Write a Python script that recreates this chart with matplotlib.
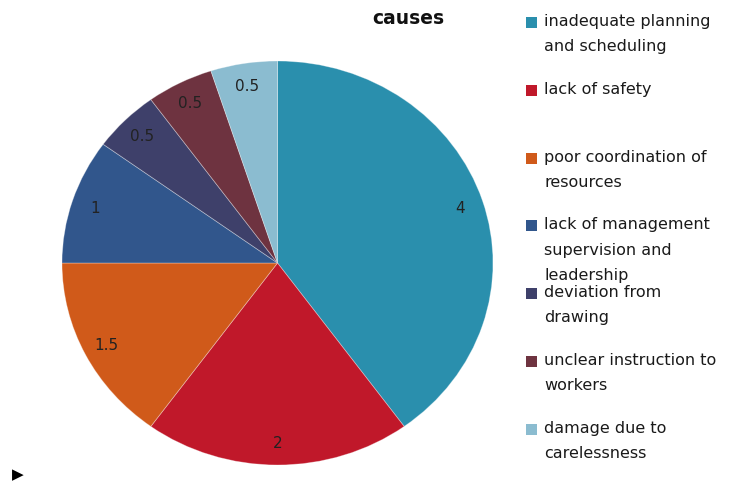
import matplotlib
matplotlib.use("Agg")
import matplotlib.pyplot as plt
from matplotlib.patches import Rectangle

categories = [
    "inadequate planning\nand scheduling",
    "lack of safety",
    "poor coordination of\nresources",
    "lack of management\nsupervision and\nleadership",
    "deviation from\ndrawing",
    "unclear instruction to\nworkers",
    "damage due to\ncarelessness",
]
values = [4, 2, 1.5, 1, 0.5, 0.5, 0.5]
colors = ["#2A8FAD", "#C0182A", "#D05A1A", "#31568C", "#3E406A", "#6E3340", "#8BBCD0"]
title = "causes"

W, H = 729, 485
fig = plt.figure(figsize=(W / 100, H / 100), dpi=100)

# pie axes (elliptical, as in the reference)
left, right, top, bottom = 62, 493, 62, 466
ax = fig.add_axes([left / W, 1 - bottom / H, (right - left) / W, (bottom - top) / H])
total = sum(values)
wedges, texts, autotexts = ax.pie(
    values, colors=colors, startangle=90, counterclock=False,
    autopct=lambda p: "%g" % round(p * total / 100, 2), pctdistance=0.89,
    wedgeprops=dict(linewidth=0.6, edgecolor=(1, 1, 1, 0.35)),
    textprops=dict(fontsize=11, color="#222222", family="DejaVu Sans"),
)
ax.set_aspect("auto")
ax.set_xlim(-1, 1)
ax.set_ylim(-1, 1)

fig.text(408 / W, 1 - 18 / H, title, ha="center", va="center",
         fontsize=13.5, fontweight="bold", color="#111111", family="DejaVu Sans")

# legend
for i, (name, c) in enumerate(zip(categories, colors)):
    y = 21 + 67.8 * i
    fig.patches.append(Rectangle((526 / W, 1 - (y + 8) / H), 11 / W, 11 / H,
                                 transform=fig.transFigure, facecolor=c, edgecolor="none"))
    fig.text(544 / W, 1 - (y - 7) / H, name, ha="left", va="top",
             fontsize=11.5, color="#1a1a1a", linespacing=1.85, family="DejaVu Sans")

fig.text(18 / W, 1 - 475 / H, "\u25B6", ha="center", va="center", fontsize=11, color="black")

fig.savefig("out.png", dpi=100, facecolor="white")
